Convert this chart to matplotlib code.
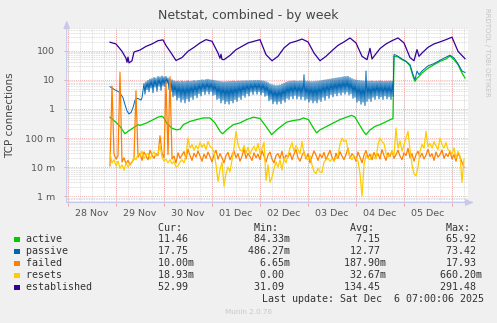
import matplotlib
matplotlib.use("Agg")
import matplotlib.pyplot as plt
import numpy as np
from matplotlib.patches import Rectangle

# time axis: hours since 28 Nov 00:00
day_labels = ["28 Nov", "29 Nov", "30 Nov", "01 Dec", "02 Dec", "03 Dec", "04 Dec", "05 Dec"]

est_h = [21, 24, 27, 29, 29.5, 30, 30.5, 32, 33, 36, 39, 42, 45, 47.5, 49, 51, 54, 57, 60, 63,
         66, 69, 72, 75, 76, 76.5, 77, 78, 81, 84, 87, 90, 93, 96, 99, 102, 105, 108, 111, 114,
         117, 120, 123, 126, 129, 132, 135, 138, 141, 144, 147, 149.5, 151, 152, 153, 156, 159, 162, 165, 168,
         171, 173, 174.5, 175.5, 177, 180, 183, 186, 189, 192, 195, 198.5]
est_v = [195, 170, 95, 55, 40, 60, 38, 45, 90, 105, 140, 170, 220, 235, 150, 95, 46, 58, 95, 130,
         184, 239, 210, 83, 55, 75, 50, 49, 69, 108, 141, 184, 210, 239, 73, 45, 64, 124, 184, 210,
         250, 200, 83, 45, 64, 100, 152, 200, 273, 184, 64, 49, 120, 52, 64, 118, 170, 220, 273, 184,
         58, 45, 108, 64, 83, 130, 170, 200, 239, 290, 95, 52.99]

act_h = [21, 23.5, 26, 28.5, 30, 32.5, 35, 36, 39.3, 42.7, 45, 46.8, 47.7, 49.3, 51.8, 54.3, 56, 57.7, 61, 64.3,
         67.7, 71, 73.5, 76, 77.3, 79.3, 82.7, 86, 89.3, 92.7, 96, 97.7, 100.2, 101.8, 104.3, 107.7, 109.3, 112.7, 116, 117.7,
         120.2, 122.7, 124.3, 126, 129.3, 132.7, 136, 139.3, 141.8, 143.5, 145.2, 147.7, 149, 151, 153.5, 156, 159.3, 161.8, 162.5, 163,
         165, 167, 169, 171, 172.5, 173.5, 174.5, 175.5, 177, 180, 183, 186, 189, 191, 193, 195, 197, 198.5]
act_v = [0.52, 0.37, 0.25, 0.14, 0.17, 0.22, 0.29, 0.27, 0.33, 0.43, 0.52, 0.56, 0.52, 0.33, 0.22, 0.19, 0.20, 0.29, 0.37, 0.43,
         0.49, 0.49, 0.33, 0.17, 0.14, 0.19, 0.29, 0.33, 0.43, 0.52, 0.47, 0.33, 0.19, 0.13, 0.19, 0.29, 0.35, 0.40, 0.43, 0.49,
         0.43, 0.22, 0.15, 0.19, 0.25, 0.33, 0.43, 0.52, 0.60, 0.52, 0.33, 0.17, 0.13, 0.19, 0.25, 0.29, 0.37, 0.45, 0.46, 64,
         61, 49, 43, 30, 13, 8.9, 11.5, 13, 17, 25, 33, 43, 52, 65.92, 49, 33, 17, 11.46]

# passive: smooth start, half-hourly swing from 38h to 162.5h, then smooth again
pas_early_h = [21, 22, 23.5, 25, 26, 27.5, 28.5, 29.5, 30.5, 31.5, 32.5, 33.5, 34.5, 35.5, 36.5, 37]
pas_early_v = [5.8, 5.2, 4.5, 4.0, 3.5, 2.4, 1.4, 0.85, 0.67, 0.75, 1.1, 2.0, 2.3, 2.2, 2.0, 2.4]
# hourly highs (on the hour) and lows (half past) of the swing
pas_peak = [7.5, 8.5, 9.5, 10.5, 11, 12, 11.5, 13, 12.5, 13.5,
            12.5, 13, 11.5, 10.5, 10,
            9.2, 8.8, 9.0, 8.6, 9.1, 8.7, 8.9, 9.3, 8.8, 9.0, 9.4, 9.1, 9.5,
            9.6, 10, 9.8, 10.2, 10.4, 10.0, 9.8, 9.6,
            9.2, 9.0, 8.8, 8.6, 8.5, 8.6, 8.7, 8.8, 8.9, 9.0, 8.8, 9.1, 9.0, 9.2, 9.1, 9.3,
            9.2, 9.4, 9.3, 9.5, 9.4, 9.6, 9.3, 9.2, 9.0, 8.6, 8.0,
            7.2, 6.8, 6.5, 6.3, 6.4, 6.6, 7.0, 7.6, 8.2, 8.6, 8.9,
            9.0, 9.2, 9.0, 8.9, 9.1, 9.0,
            15,
            8.9, 8.8, 8.7, 8.6, 8.7, 8.8, 9.0,
            9.2, 9.5, 9.8, 10.0, 10.3, 10.6, 10.9, 11.2, 11.5, 11.8, 12.0, 12.4, 12.8, 13.0, 13.2,
            12.0, 11.0, 10.2, 9.8, 9.5, 9.3, 9.2, 9.0,
            20,
            9.0, 8.9, 9.1, 8.8, 9.0, 8.9, 9.2, 9.0, 8.8, 9.0, 8.9, 9.1, 9.0]
pas_trough = [3.2, 4.6, 3.9, 5.2, 3.6, 5.6, 4.0, 6.0, 4.3, 6.2,
              5.8, 7.5, 4.6, 3.9, 2.6,
              2.9, 2.0, 2.4, 1.7, 2.1, 1.6, 2.2, 1.8, 2.5, 2.1, 2.9, 2.4, 3.3,
              2.8, 3.9, 3.1, 4.0, 3.2, 3.9, 2.9, 3.1,
              2.1, 2.3, 1.6, 2.0, 1.5, 1.8, 1.45, 1.9, 1.6, 2.1, 1.8, 2.5, 2.1, 2.9, 2.5, 3.3,
              2.8, 3.8, 3.1, 4.0, 3.2, 3.9, 3.0, 3.6, 2.7, 2.9, 1.9,
              2.1, 1.5, 1.8, 1.45, 1.8, 1.5, 2.0, 1.7, 2.3, 2.1, 2.7,
              2.2, 2.9, 2.2, 2.7, 2.1, 2.6,
              2.0,
              2.2, 1.7, 2.0, 1.6, 1.9, 1.6, 2.1,
              1.8, 2.5, 2.0, 2.8, 2.3, 3.1, 2.6, 3.3, 2.8, 3.5, 3.0, 3.7, 3.2, 3.8, 3.0,
              3.3, 2.3, 2.5, 1.7, 1.9, 1.45, 1.7, 1.3,
              1.8,
              2.2, 1.8, 2.5, 2.1, 2.8, 2.2, 2.6, 2.1, 2.8, 2.2, 2.6, 2.1, 2.7]
pas_late_h = [163, 164, 165, 167, 169, 171, 172.5, 173.5, 174.5, 175.5, 177, 180, 183, 186, 189, 191, 193, 195, 197, 198.5]
pas_late_v = [73.42, 70, 64, 52, 43, 33, 15.2, 10, 20, 15, 20, 30, 36, 47, 60, 70, 56, 36, 20, 17.75]

# failed / resets, hourly from 21h to 198h, in milli-connections
failed_m = [11, 6100, 28, 19, 24, 17930, 15, 21, 13, 17, 12, 15,
            19, 4200, 22, 30, 17, 33, 24, 18, 38, 26, 20, 29,
            25, 120, 30, 21, 8600, 27, 12800, 19, 24, 14, 31, 20,
            26, 34, 19, 41, 25, 17, 30, 22, 36, 24, 16, 28,
            20, 33, 23, 15, 27, 38, 19, 29, 21, 14, 25, 32,
            18, 26, 36, 21, 29, 16, 24, 42, 20, 30, 23, 17,
            31, 21, 28, 18, 37, 24, 15, 26, 33, 19, 14, 25,
            29, 20, 35, 17, 26, 22, 31, 18, 28, 40, 21, 16,
            25, 34, 19, 29, 14, 23, 36, 26, 17, 28, 21, 32,
            18, 26, 38, 22, 16, 30, 20, 34, 24, 18, 27, 45,
            20, 29, 24, 16, 33, 22, 14, 26, 37, 21, 28, 18,
            32, 22, 29, 19, 40, 25, 17, 31, 23, 36, 20, 27,
            38, 24, 18, 31, 25, 44, 21, 29, 16, 27, 35, 22,
            30, 19, 26, 41, 23, 29, 17, 33, 22, 27, 39, 20,
            29, 23, 36, 19, 27, 16, 31, 22, 15, 10]
resets_m = [30, 14, 18, 11, 16, 9, 12, 8, 14, 10, 13, 15,
            22, 18, 28, 24, 35, 20, 26, 30, 19, 27, 33, 24,
            29, 60, 22, 16, 19, 14, 18, 13, 16, 10, 11, 15,
            18, 14, 25, 100, 45, 60, 38, 55, 42, 70, 48, 62,
            40, 75, 52, 45, 33, 12, 3.2, 8, 15, 2.2, 6, 10,
            7, 18, 45, 170, 60, 40, 35, 55, 30, 48, 28, 40,
            52, 35, 65, 30, 45, 70, 3.5, 12, 3, 4.5, 9, 15,
            10, 18, 8, 20, 14, 25, 45, 70, 35, 55, 40, 28,
            77, 30, 22, 18, 25, 12, 7, 6, 9, 7, 6.5, 15,
            18, 20, 16, 19, 17, 20, 25, 60, 100, 75, 85, 40,
            22, 18, 25, 20, 16, 6, 1.0, 12, 25, 20, 18, 27,
            22, 19, 60, 100, 75, 65, 30, 22, 27, 35, 25, 220,
            45, 80, 35, 60, 100, 170, 40, 12, 6, 5, 10, 35,
            60, 45, 170, 50, 65, 45, 75, 55, 40, 100, 60, 45,
            70, 40, 35, 28, 45, 20, 35, 25, 3, 18.93]

names = ["active", "passive", "failed", "resets", "established"]
colors = ["#00cc00", "#0066b3", "#ff8000", "#ffcc00", "#330099"]
cur = [11.46, 17.75, 0.01, 0.01893, 52.99]
vmin = [0.08433, 0.48627, 0.00665, 0.0, 31.09]
vavg = [7.15, 12.77, 0.1879, 0.03267, 134.45]
vmax = [65.92, 73.42, 17.93, 0.6602, 291.48]

W, H = 497, 323
AX_L, AX_R, AX_T, AX_B = 66.7, 467.5, 28.0, 202.5


def fld(v):
    if v != 0 and abs(v) < 1:
        return f"{v * 1000:6.2f}m"
    return f"{v:6.2f} "


def fy(py):
    return 1 - py / H


fig = plt.figure(figsize=(W / 100, H / 100), dpi=100, facecolor="#f0f0f0")
ax = fig.add_axes([AX_L / W, fy(AX_B), (AX_R - AX_L) / W, (AX_B - AX_T) / H])
ax.set_facecolor("white")
ax.set_yscale("log")
ax.set_ylim(6.1e-4, 600)
ax.set_xlim(-0.65, 199.75)
for s in ax.spines.values():
    s.set_visible(False)

# grid: grey minor, red major
for d in [1e-4, 1e-3, 1e-2, 1e-1, 1, 10, 100]:
    for k in range(2, 10):
        ax.axhline(k * d, color="#d2d2d2", lw=0.6, ls=(0, (1, 1)), zorder=0)
for h in range(0, 200, 6):
    ax.axvline(h, color="#d2d2d2", lw=0.6, ls=(0, (1, 1)), zorder=0)
ymaj = [1e-3, 1e-2, 1e-1, 1, 10, 100]
for y in ymaj:
    ax.axhline(y, color="#ee9a9a", lw=0.6, ls=(0, (1, 1.5)), zorder=0.5)
for h in range(0, 200, 24):
    ax.axvline(h, color="#ee9a9a", lw=0.6, ls=(0, (1, 1.5)), zorder=0.5)

ax.set_yticks(ymaj, ["1 m", "10 m", "100 m", "1", "10", "100"])
ax.minorticks_off()
ax.set_xticks(range(0, 200, 24), [])
ax.set_xticks([12 + 24 * i for i in range(len(day_labels))], day_labels, minor=True)
ax.tick_params(axis="both", which="major", length=2.5, width=0.6, color="#ee9a9a",
               labelsize=6.8, labelcolor="#555555", pad=6)
ax.tick_params(axis="x", which="minor", length=0, labelsize=6.8, labelcolor="#555555", pad=4.5)

# axes with arrow heads
arrow = dict(arrowstyle="-|>,head_length=0.5,head_width=0.2", color="#c8c8ec", lw=0.8,
             shrinkA=0, shrinkB=0)
ax.annotate("", xy=(0, 1.045), xytext=(0, 0), xycoords="axes fraction", arrowprops=arrow)
ax.annotate("", xy=(1.016, 0), xytext=(0, 0), xycoords="axes fraction", arrowprops=arrow)

# series
t_hourly = np.arange(21, 199)
t_wave = np.arange(38, 163, 0.5)
v_wave = np.column_stack([pas_peak, pas_trough]).ravel()
t_pas = np.concatenate([pas_early_h, t_wave, pas_late_h])
v_pas = np.concatenate([pas_early_v, v_wave, pas_late_v])
ax.plot(act_h, act_v, color=colors[0], lw=0.9, zorder=2)
ax.plot(t_pas, v_pas, color=colors[1], lw=0.7, zorder=2)
ax.plot(t_hourly, np.array(failed_m) / 1000, color=colors[2], lw=0.9, zorder=2)
ax.plot(t_hourly, np.array(resets_m) / 1000, color=colors[3], lw=0.9, zorder=2)
ax.plot(est_h, est_v, color=colors[4], lw=0.9, zorder=2)

fig.text(0.5, fy(15), "Netstat, combined - by week", ha="center", va="center",
         fontsize=9, color="#444444")
fig.text(10 / W, fy(115), "TCP connections", rotation=90, ha="center", va="center",
         fontsize=7.5, color="#444444")
fig.text(487 / W, fy(52), "RRDTOOL / TOBI OETIKER", rotation=270, ha="center", va="center",
         fontsize=5, color="#c4c4c4")

# legend table
mono = dict(family="DejaVu Sans Mono", fontsize=7.2, color="#333333", va="center", ha="left")
fig.text(26 / W, fy(228.3), " " * 22 + "Cur:" + " " * 12 + "Min:" + " " * 12 + "Avg:" + " " * 12 + "Max:", **mono)
for i, name in enumerate(names):
    y = 239.5 + 12 * i
    fig.add_artist(Rectangle((14 / W, fy(y + 2.6)), 5.6 / W, 5.2 / H, transform=fig.transFigure,
                             facecolor=colors[i], edgecolor="none"))
    row = f"{name:<21}" + fld(cur[i]) + " " * 9 + fld(vmin[i]) + " " * 9 + fld(vavg[i]) + " " * 9 + fld(vmax[i])
    fig.text(26 / W, fy(y), row, **mono)
fig.text(483.5 / W, fy(299.3), "Last update: Sat Dec  6 07:00:06 2025",
         **{**mono, "ha": "right"})
fig.text(0.5, fy(312.3), "Munin 2.0.76", ha="center", va="center", fontsize=5.2, color="#c8c8c8")

fig.savefig("out.png", dpi=100, facecolor=fig.get_facecolor())
